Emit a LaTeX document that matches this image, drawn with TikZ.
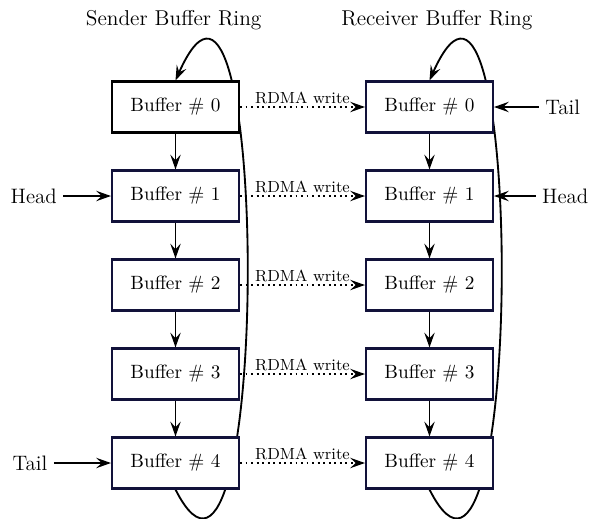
\documentclass[tikz,border=0pt]{standalone}
\usepackage{amsmath}
\usepackage{tikz}
\usetikzlibrary{arrows.meta,backgrounds}

\definecolor{bufblue}{RGB}{18,18,58}

\begin{document}
\begin{tikzpicture}[
	buf/.style={draw=bufblue,line width=1.1pt,fill=white,minimum width=2.413cm,minimum height=0.969cm,font=\fontsize{10.4}{12}\selectfont},
	lbl/.style={font=\fontsize{11.3}{13}\selectfont},
	link/.style={line width=1pt,-{Stealth[length=8pt,width=5.6pt,inset=3pt]}},
	wr/.style={link,dotted}]
	\useasboundingbox (0,0) rectangle (11.248,9.842);
	\node[font=\fontsize{11.6}{14}\selectfont] (stitle) at (3.30,9.462) {Sender Buffer Ring};
	\node[font=\fontsize{11.6}{14}\selectfont] (rtitle) at (8.30,9.462) {Receiver Buffer Ring};
	% sender ring
	\node[buf,draw=black] (s0) at (3.3345,7.809) {Buffer \# 0};
	\node[buf] (s1) at (3.3345,6.118) {Buffer \# 1};
	\node[buf] (s2) at (3.3345,4.427) {Buffer \# 2};
	\node[buf] (s3) at (3.3345,2.736) {Buffer \# 3};
	\node[buf] (s4) at (3.3345,1.045) {Buffer \# 4};
	% receiver ring
	\node[buf] (r0) at (8.1605,7.809) {Buffer \# 0};
	\node[buf] (r1) at (8.1605,6.118) {Buffer \# 1};
	\node[buf] (r2) at (8.1605,4.427) {Buffer \# 2};
	\node[buf] (r3) at (8.1605,2.736) {Buffer \# 3};
	\node[buf] (r4) at (8.1605,1.045) {Buffer \# 4};
	% pointers
	\node[lbl] (shead) at (0.64,6.118) {Head};
	\node[lbl] (stail) at (0.57,1.045) {Tail};
	\node[lbl] (rtail) at (10.69,7.809) {Tail};
	\node[lbl] (rhead) at (10.74,6.118) {Head};
	\draw[link] (shead) -- (s1);
	\draw[link] (stail) -- (s4);
	\draw[link] (rtail) -- (r0);
	\draw[link] (rhead) -- (r1);
	% next buffer
	\draw[link] (s0) -- (s1);
	\draw[link] (s1) -- (s2);
	\draw[link] (s2) -- (s3);
	\draw[link] (s3) -- (s4);
	\draw[link] (r0) -- (r1);
	\draw[link] (r1) -- (r2);
	\draw[link] (r2) -- (r3);
	\draw[link] (r3) -- (r4);
	% wrap around
	\begin{scope}[on background layer]
	\draw[link] (s4.south) .. controls +(1.82,-3.61) and +(1.82,4.1) .. (s0.north);
	\draw[link] (r4.south) .. controls +(1.82,-3.61) and +(1.82,4.1) .. (r0.north);
	\end{scope}
	% writes
	\draw[wr] (s0) -- node[above,inner sep=1pt,font=\fontsize{8.7}{10}\selectfont]{RDMA write} (r0);
	\draw[wr] (s1) -- node[above,inner sep=1pt,font=\fontsize{8.7}{10}\selectfont]{RDMA write} (r1);
	\draw[wr] (s2) -- node[above,inner sep=1pt,font=\fontsize{8.7}{10}\selectfont]{RDMA write} (r2);
	\draw[wr] (s3) -- node[above,inner sep=1pt,font=\fontsize{8.7}{10}\selectfont]{RDMA write} (r3);
	\draw[wr] (s4) -- node[above,inner sep=1pt,font=\fontsize{8.7}{10}\selectfont]{RDMA write} (r4);
\end{tikzpicture}
\end{document}
